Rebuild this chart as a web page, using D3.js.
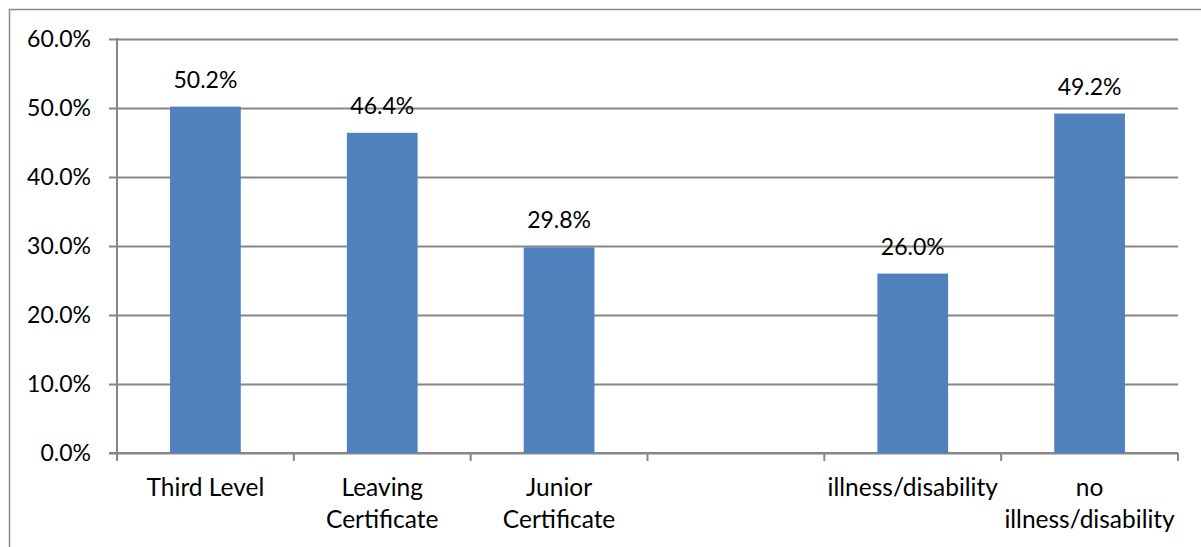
<!DOCTYPE html>
<html>
<head>
<meta charset="utf-8">
<script src="https://cdn.jsdelivr.net/npm/d3@7"></script>
<style>
  html, body { margin: 0; padding: 0; background: #ffffff; }
  svg { display: block; }
  text { font-family: Lato, "Open Sans", sans-serif; fill: #000; }
</style>
</head>
<body>
<script>
// Category keys (one per slot; the fourth slot is intentionally empty)
const categories = ["third", "leaving", "junior", "gap", "illness", "noIllness"];
// Axis labels for each slot, "\n" marks a line break
const tickLabels = ["Third Level", "Leaving\nCertificate", "Junior\nCertificate", "", "illness/disability", "no\nillness/disability"];
// Percentage values; null means no bar in that slot
const values = [50.2, 46.4, 29.8, null, 26.0, 49.2];
// Value axis ticks
const yTicks = [0, 10, 20, 30, 40, 50, 60];

const W = 1201, H = 547;
const plot = { left: 117, right: 1178, top: 39, bottom: 453 };
const gridColor = "#868686";
const barColor = "#4f81bd";

const svg = d3.select("body").append("svg")
  .attr("width", W).attr("height", H);

// chart frame (open on the right and bottom, where it runs off the page)
svg.append("rect")
  .attr("x", 9.5).attr("y", 9.5)
  .attr("width", W + 20).attr("height", H + 20)
  .attr("fill", "none").attr("stroke", "#8c8c8c").attr("stroke-width", 1.5);

const x = d3.scaleBand()
  .domain(categories)
  .range([plot.left, plot.right])
  .paddingInner(0.6)
  .paddingOuter(0.3);

const y = d3.scaleLinear().domain([0, 60]).range([plot.bottom, plot.top]);

// horizontal gridlines with short outward ticks
const yAxis = d3.axisLeft(y)
  .tickValues(yTicks)
  .tickSize(-(plot.right - plot.left))
  .tickPadding(0)
  .tickFormat(d => d3.format(".1f")(d) + "%");

const gy = svg.append("g")
  .attr("transform", `translate(${plot.left},0)`)
  .call(yAxis);
gy.select(".domain").remove();
gy.selectAll(".tick line")
  .attr("x1", -8)
  .attr("stroke", gridColor).attr("stroke-width", 2);
gy.selectAll(".tick text")
  .attr("x", -26)
  .attr("dy", "0.32em")
  .style("font-size", "23px");

// vertical axis line
svg.append("line")
  .attr("x1", plot.left).attr("x2", plot.left)
  .attr("y1", y(60) - 1).attr("y2", plot.bottom + 8)
  .attr("stroke", gridColor).attr("stroke-width", 2);

// category axis baseline and slot-boundary ticks
svg.append("line")
  .attr("x1", plot.left - 8).attr("x2", plot.right)
  .attr("y1", y(0)).attr("y2", y(0))
  .attr("stroke", gridColor).attr("stroke-width", 2);

const step = x.step();
const boundaries = categories.map(c => x(c) - step * x.paddingInner() / 2)
  .concat([x(categories[categories.length - 1]) + x.bandwidth() + step * x.paddingInner() / 2]);
svg.append("g").selectAll("line")
  .data(boundaries)
  .join("line")
  .attr("x1", d => d).attr("x2", d => d)
  .attr("y1", y(0)).attr("y2", y(0) + 8)
  .attr("stroke", gridColor).attr("stroke-width", 2);

// bars
const data = categories.map((c, i) => ({ key: c, value: values[i], label: tickLabels[i] }));
svg.append("g").selectAll("rect")
  .data(data.filter(d => d.value != null))
  .join("rect")
  .attr("x", d => x(d.key))
  .attr("width", x.bandwidth())
  .attr("y", d => y(d.value))
  .attr("height", d => y(0) - y(d.value))
  .attr("fill", barColor);

// value labels above bars
svg.append("g").selectAll("text")
  .data(data.filter(d => d.value != null))
  .join("text")
  .attr("x", d => x(d.key) + x.bandwidth() / 2)
  .attr("y", d => y(d.value) - 19)
  .attr("text-anchor", "middle")
  .style("font-size", "23px")
  .text(d => d3.format(".1f")(d.value) + "%");

// category labels
const cat = svg.append("g").selectAll("text")
  .data(data)
  .join("text")
  .attr("x", d => x(d.key) + x.bandwidth() / 2)
  .attr("y", 496)
  .attr("text-anchor", "middle")
  .style("font-size", "24.5px");
cat.selectAll("tspan")
  .data(d => d.label ? d.label.split("\n").map(t => ({ t, cx: x(d.key) + x.bandwidth() / 2 })) : [])
  .join("tspan")
  .attr("x", d => d.cx)
  .attr("dy", (d, i) => i === 0 ? 0 : 32)
  .text(d => d.t);
</script>
</body>
</html>
